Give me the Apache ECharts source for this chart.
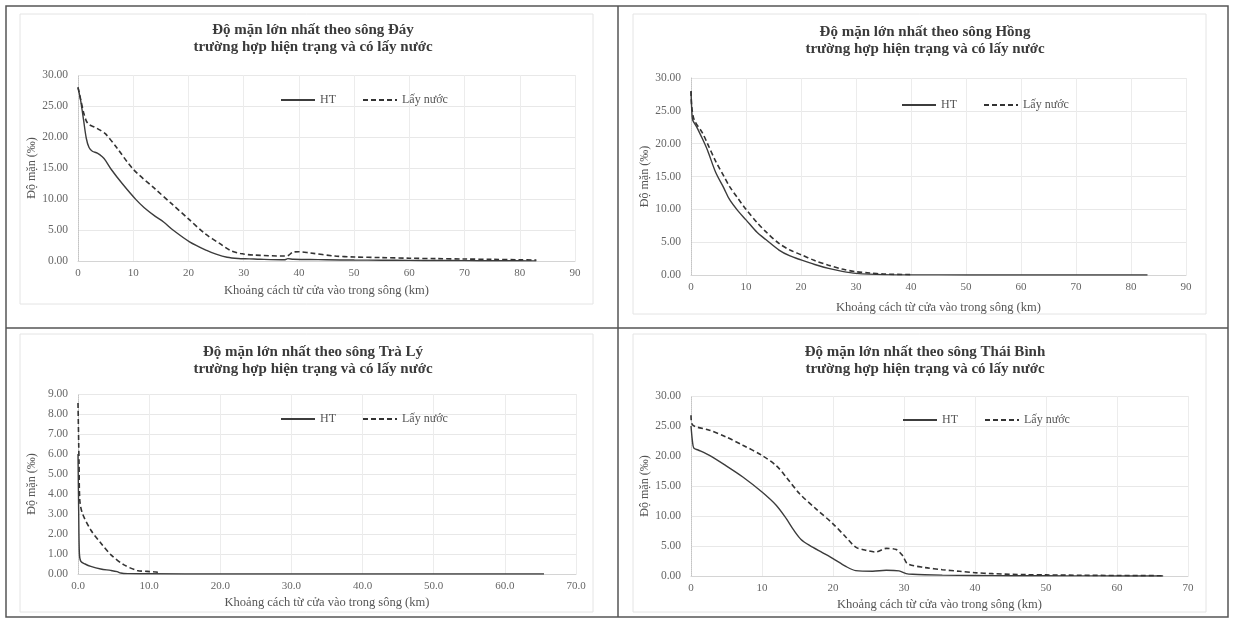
<!DOCTYPE html>
<html>
<head>
<meta charset="utf-8">
<script src="https://cdn.jsdelivr.net/npm/echarts@6/dist/echarts.min.js"></script>
<style>html,body{margin:0;padding:0;background:#fff}#c{width:1233px;height:620px}</style>
</head>
<body>
<div id="c"></div>
<script>
// ---------- data ----------
const titles = [
  'Độ mặn lớn nhất theo sông Đáy\ntrường hợp hiện trạng và có lấy nước',
  'Độ mặn lớn nhất theo sông Hồng\ntrường hợp hiện trạng và có lấy nước',
  'Độ mặn lớn nhất theo sông Trà Lý\ntrường hợp hiện trạng và có lấy nước',
  'Độ mặn lớn nhất theo sông Thái Bình\ntrường hợp hiện trạng và có lấy nước'
];
const seriesNames = ['HT', 'Lấy nước'];
const xAxisName = 'Khoảng cách từ cửa vào trong sông (km)';
const yAxisName = 'Độ mặn (‰)';
const xMax = [90, 90, 70, 70];
const xInterval = [10, 10, 10, 10];
const xDecimals = [0, 0, 1, 0];
const yMax = [30, 30, 9, 30];
const yInterval = [5, 5, 1, 5];

// Sông Đáy
const dayHT = [[0,28.0],[0.5,25.8],[1,22.8],[1.5,19.8],[2,18.3],[2.6,17.7],[3.5,17.4],[4.4,16.8],[5,16.2],[6,14.8],[8,12.5],[10.5,9.9],[12,8.6],[14,7.2],[15.5,6.3],[17.2,5.0],[20.2,3.1],[23.3,1.7],[25,1.1],[27,0.6],[29,0.4],[31,0.35],[33,0.28],[37.5,0.2],[38,0.38],[39,0.28],[42,0.24],[45,0.2],[50,0.15],[55,0.12],[60,0.1],[65,0.08],[70,0.06],[75,0.04],[80,0.03],[83,0.02]];
const dayLN = [[0,28.0],[0.5,26.0],[1,24.0],[1.5,22.6],[2,22.0],[3,21.6],[4,21.1],[5,20.5],[7,18.3],[10,14.8],[14,11.6],[17,9.2],[20,6.8],[23,4.4],[25.7,2.8],[27.6,1.7],[29.4,1.2],[32,0.95],[37.5,0.8],[38,0.85],[39,1.45],[40,1.5],[42,1.3],[46.5,0.8],[50,0.65],[55,0.55],[60,0.45],[65,0.38],[70,0.32],[75,0.26],[80,0.2],[83,0.15]];
// Sông Hồng
const hongHT = [[0,28.0],[0.15,25.0],[0.3,23.6],[1,22.6],[2.1,20.7],[3,19.0],[4.5,15.6],[6,13.2],[7,11.5],[8.5,9.8],[10,8.4],[12,6.5],[13.6,5.4],[16,3.8],[18,2.9],[20,2.3],[22.5,1.6],[25,1.0],[27.5,0.55],[30,0.25],[35,0.05],[40,0.02],[50,0.01],[60,0],[70,0],[83,0]];
const hongLN = [[0,28.0],[0.15,25.5],[0.6,23.6],[2.1,21.6],[3,20.0],[4.5,17.3],[6,15.0],[7,13.5],[8.5,11.7],[10,10.0],[12,8.0],[13.6,6.6],[16,4.8],[18,3.8],[20,3.1],[22.5,2.2],[25,1.5],[27.5,0.9],[30,0.5],[32.5,0.3],[35,0.15],[40,0.05]];
// Sông Trà Lý
const traLyHT = [[0,6.0],[0.1,3.0],[0.2,1.0],[0.4,0.63],[1,0.5],[1.8,0.38],[3.2,0.25],[4.6,0.18],[5.5,0.12],[6,0.05],[7,0.02],[10,0.01],[20,0],[30,0],[40,0],[50,0],[60,0],[65.5,0]];
const traLyLN = [[0,8.55],[0.1,6.5],[0.15,5.5],[0.25,3.7],[0.6,3.05],[1.8,2.2],[3.2,1.55],[4.6,0.97],[6.4,0.47],[8.3,0.18],[9.7,0.13],[11,0.1],[11.5,0.05]];
// Sông Thái Bình
const thaiBinhHT = [[0,25.0],[0.2,22.5],[0.4,21.3],[1,21.0],[2.6,20.1],[4.9,18.4],[7.3,16.5],[10,14.0],[12,11.8],[13.4,9.6],[14.5,7.6],[15.5,6.1],[16.7,5.1],[18.5,3.9],[20,2.9],[21.8,1.6],[23.2,0.9],[25.6,0.8],[27.5,0.95],[29.3,0.85],[30.3,0.4],[31.2,0.28],[35.4,0.15],[40,0.08],[45,0.05],[50,0.03],[55,0.02],[60,0.01],[66.5,0]];
const thaiBinhLN = [[0,26.8],[0.2,25.2],[2.6,24.3],[4.9,23.2],[7.3,21.8],[10,20.1],[12,18.4],[13.4,16.5],[15.3,13.7],[17.6,11.2],[20,8.7],[21.8,6.5],[23.2,4.8],[24.6,4.3],[26,4.0],[27.5,4.6],[28.9,4.4],[29.8,3.4],[30.5,2.05],[33,1.4],[35.4,1.05],[37.8,0.78],[40,0.55],[42.5,0.39],[47.2,0.22],[50,0.18],[55,0.12],[60,0.08],[66.5,0.05]];

const panelData = [[dayHT, dayLN], [hongHT, hongLN], [traLyHT, traLyLN], [thaiBinhHT, thaiBinhLN]];

// ---------- layout ----------
const FONT = '"Liberation Serif", "Times New Roman", serif';
const grids = [
  {left: 78, top: 75, width: 497, height: 186},
  {left: 691, top: 78, width: 495, height: 197},
  {left: 78, top: 394, width: 498, height: 180},
  {left: 691, top: 396, width: 497, height: 180}
];
const titlePos = [{x: 308, y: 17}, {x: 920, y: 19}, {x: 308, y: 339}, {x: 920, y: 339}];
const legendPos = [{x: 275, y: 89}, {x: 896, y: 94}, {x: 275, y: 408}, {x: 897, y: 409}];
const xNameGap = [23, 26, 22, 22];

const option = {
  backgroundColor: '#fff',
  animation: false,
  title: [], grid: [], xAxis: [], yAxis: [], series: [], legend: [],
  graphic: []
};

for (let i = 0; i < 4; i++) {
  option.title.push({
    text: titles[i], left: titlePos[i].x, top: titlePos[i].y, textAlign: 'center',
    textStyle: {fontFamily: FONT, fontWeight: 'bold', fontSize: 15, lineHeight: 17, color: '#3a3a3a'}
  });
  option.grid.push(Object.assign({containLabel: false}, grids[i]));
  option.xAxis.push({
    type: 'value', gridIndex: i, min: 0, max: xMax[i], interval: xInterval[i],
    name: xAxisName, nameLocation: 'middle', nameGap: xNameGap[i],
    nameTextStyle: {fontFamily: FONT, fontSize: 12.5, color: '#555'},
    axisLine: {show: true, lineStyle: {color: '#d4d4d4', width: 1}},
    axisTick: {show: false},
    axisLabel: {fontFamily: FONT, fontSize: 11, color: '#666', margin: 7,
      formatter: (v) => v.toFixed(xDecimals[i])},
    splitLine: {show: true, lineStyle: {color: '#ececec', width: 1}}
  });
  option.yAxis.push({
    type: 'value', gridIndex: i, min: 0, max: yMax[i], interval: yInterval[i],
    name: yAxisName, nameLocation: 'middle', nameGap: 40,
    nameTextStyle: {fontFamily: FONT, fontSize: 12, color: '#555'},
    axisLine: {show: true, lineStyle: {color: '#c4c4c4', width: 1, type: 'dotted'}},
    axisTick: {show: false},
    axisLabel: {fontFamily: FONT, fontSize: 11.5, color: '#666', margin: 10,
      formatter: (v) => v.toFixed(2)},
    splitLine: {show: true, lineStyle: {color: '#e8e8e8', width: 1}}
  });
  option.series.push({
    name: seriesNames[0], type: 'line', xAxisIndex: i, yAxisIndex: i,
    data: panelData[i][0], symbol: 'none', smooth: 0.3,
    lineStyle: {color: '#3c3c3c', width: 1.4, type: 'solid'}, itemStyle: {color: '#3c3c3c'}, z: 3
  });
  option.series.push({
    name: seriesNames[1], type: 'line', xAxisIndex: i, yAxisIndex: i,
    data: panelData[i][1], symbol: 'none', smooth: 0.3,
    lineStyle: {color: '#333', width: 1.6, type: [5, 3]}, itemStyle: {color: '#333'}, z: 4
  });
  option.legend.push({
    data: seriesNames, left: legendPos[i].x, top: legendPos[i].y, orient: 'horizontal',
    itemWidth: 34, itemHeight: 14, itemGap: 26, selectedMode: false,
    itemStyle: {opacity: 0, borderWidth: 0},
    textStyle: {fontFamily: FONT, fontSize: 12, color: '#555'}
  });
}

// panel frames
option.graphic = [
  {type: 'rect', shape: {x: 20, y: 14, width: 573, height: 290}, style: {fill: 'none', stroke: '#e4e4e4', lineWidth: 1}, silent: true},
  {type: 'rect', shape: {x: 633, y: 14, width: 573, height: 300}, style: {fill: 'none', stroke: '#e4e4e4', lineWidth: 1}, silent: true},
  {type: 'rect', shape: {x: 20, y: 334, width: 573, height: 278}, style: {fill: 'none', stroke: '#e4e4e4', lineWidth: 1}, silent: true},
  {type: 'rect', shape: {x: 633, y: 334, width: 573, height: 278}, style: {fill: 'none', stroke: '#e4e4e4', lineWidth: 1}, silent: true},
  {type: 'rect', shape: {x: 6, y: 6, width: 1222, height: 611}, style: {fill: 'none', stroke: '#555', lineWidth: 1.5}, silent: true, z: 100},
  {type: 'line', shape: {x1: 618, y1: 6, x2: 618, y2: 617}, style: {stroke: '#555', lineWidth: 1.5}, silent: true, z: 100},
  {type: 'line', shape: {x1: 6, y1: 328, x2: 1228, y2: 328}, style: {stroke: '#555', lineWidth: 1.5}, silent: true, z: 100}
];

const chart = echarts.init(document.getElementById('c'), null, {renderer: 'canvas'});
chart.setOption(option);
</script>
</body>
</html>
